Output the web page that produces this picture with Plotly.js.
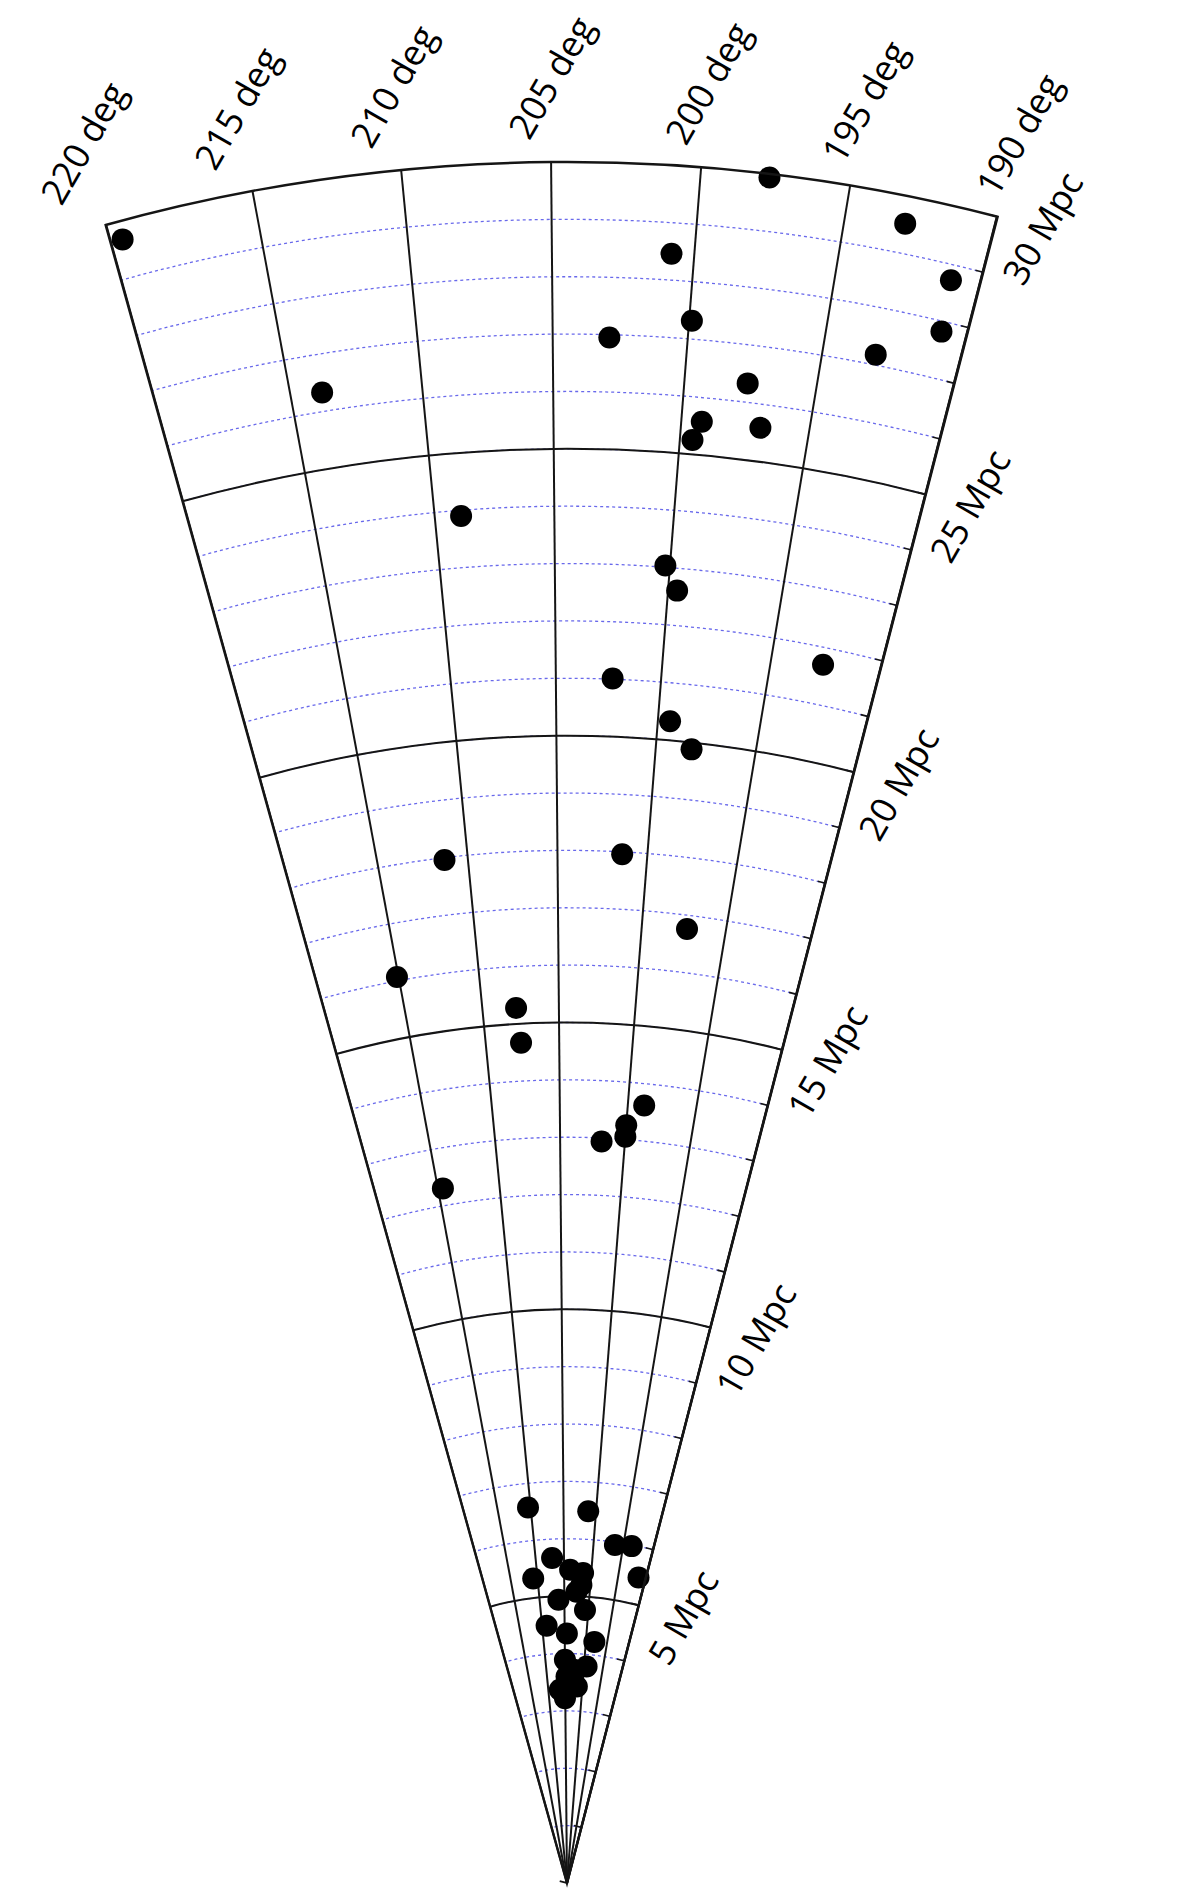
<!DOCTYPE html>
<html>
<head>
<meta charset="utf-8">
<script src="https://cdn.plot.ly/plotly-3.0.1.min.js"></script>
<style>html,body{margin:0;padding:0;background:#fff}</style>
</head>
<body>
<div id="wedge" style="width:1200px;height:1904px"></div>
<script>
var galaxyRA = [219.6, 197.7, 192.95, 200.8, 191.0, 199.9, 202.9, 190.9, 193.05, 213.8,
  197.6, 199.2, 196.9, 199.5, 208.9, 200.2, 199.6, 192.6, 202.3, 199.4,
  198.2, 211.3, 201.4, 197.3, 215.1, 207.8, 207.6, 198.8, 200.0, 200.0,
  201.8, 214.6,
  210.4, 201.2, 196.4, 193.6, 207.1, 210.8, 191.3, 203.9, 201.5, 201.7,
  202.6, 206.2, 200.7, 209.0, 204.5, 198.0, 205.0, 199.3, 202.6, 204.6,
  201.6, 206.6, 205.1];
var galaxyDist = [29.68, 29.94, 29.52, 28.46, 28.73, 27.32, 26.95, 27.82, 27.18, 26.33,
  26.33, 25.58, 25.59, 25.25, 23.90, 23.03, 22.61, 21.70, 21.01, 20.33,
  19.88, 17.96, 17.96, 16.76, 16.07, 15.28, 14.67, 13.62, 13.25, 13.05,
  12.94, 12.30,
  6.58, 6.49, 5.95, 5.98, 5.67, 5.34, 5.47, 5.46, 5.41, 5.20,
  5.08, 4.94, 4.77, 4.50, 4.35, 4.23, 3.89, 3.79, 3.72, 3.60,
  3.43, 3.37, 3.22];

var angleTicks = [190, 195, 200, 205, 210, 215, 220];
var distTicks = [5, 10, 15, 20, 25, 30];

var W = 1200, H = 1904;
// wedge geometry in pixels
var apexX = 567, apexY = 1883, rOuter = 1721;
var rot = -114.47;   // screen angle of theta = 0
var rMax = 30;
var sector = [190 + rot - 0.02, 220 + rot + 0.02];

function rad(a) { return a * Math.PI / 180; }

// bounding box of the sector so the polar domain lands on the apex
var xs = [0], ys = [0];
sector.forEach(function(a) { xs.push(Math.cos(rad(a))); ys.push(Math.sin(rad(a))); });
if (sector[0] < 90 && sector[1] > 90) ys.push(1);
var bx0 = Math.min.apply(null, xs), bx1 = Math.max.apply(null, xs), by1 = Math.max.apply(null, ys);
var dom = {
  x: [(apexX + bx0 * rOuter) / W, (apexX + bx1 * rOuter) / W],
  y: [(H - apexY) / H, (H - apexY + by1 * rOuter) / H]
};

var ink = '#151515';
var labelFont = {family: 'Open Sans, sans-serif', size: 36, color: '#000'};

// minor 1 Mpc rings, blue dotted
var minorPolar = {
  domain: dom, sector: sector, bgcolor: 'white',
  radialaxis: {range: [0, rMax], dtick: 1, showgrid: true, gridcolor: 'rgb(105,105,235)',
    griddash: 'dot', gridwidth: 1.3, showline: false, side: 'clockwise', angle: 190 + rot,
    ticks: 'inside', ticklen: 7, tickwidth: 1.6, tickcolor: ink, showticklabels: false},
  angularaxis: {rotation: rot, direction: 'counterclockwise', showgrid: false,
    showline: false, ticks: '', showticklabels: false}
};

// major grid: 5 Mpc rings and 5 deg spokes
var majorPolar = {
  domain: dom, sector: sector, bgcolor: 'rgba(0,0,0,0)',
  radialaxis: {range: [0, rMax], tickvals: distTicks, showgrid: true, gridcolor: ink,
    gridwidth: 2, showline: true, linecolor: ink, linewidth: 2.4, side: 'clockwise',
    angle: 190 + rot, ticks: '', showticklabels: false},
  angularaxis: {rotation: rot, direction: 'counterclockwise', tickvals: angleTicks,
    showgrid: true, gridcolor: ink, gridwidth: 2, showline: true, linecolor: ink,
    linewidth: 2.4, ticks: '', showticklabels: false}
};

// rotated tick labels
var annotations = [];
angleTicks.forEach(function(a) {
  var phi = rad(a + rot), rr = rOuter + 85;
  annotations.push({
    xref: 'paper', yref: 'paper', showarrow: false, textangle: -60,
    x: (apexX + rr * Math.cos(phi)) / W, y: 1 - (apexY - rr * Math.sin(phi)) / H,
    xanchor: 'center', yanchor: 'middle', text: a + ' deg', font: labelFont
  });
});
var phiEdge = rad(190 + rot), nrm = phiEdge - Math.PI / 2;
distTicks.forEach(function(d) {
  var rr = d / rMax * rOuter;
  var px = apexX + rr * Math.cos(phiEdge) + 46 * Math.cos(nrm);
  var py = apexY - rr * Math.sin(phiEdge) - 46 * Math.sin(nrm);
  annotations.push({
    xref: 'paper', yref: 'paper', showarrow: false, textangle: -60,
    x: px / W, y: 1 - py / H, xanchor: 'center', yanchor: 'middle',
    text: d + ' Mpc', font: labelFont
  });
});

var traces = [
  {type: 'scatterpolar', subplot: 'polar', r: galaxyDist, theta: galaxyRA,
   mode: 'none', hoverinfo: 'skip', showlegend: false},
  {type: 'scatterpolar', subplot: 'polar2', r: galaxyDist, theta: galaxyRA,
   mode: 'markers', marker: {color: 'black', size: 22}, showlegend: false}
];

var layout = {
  width: W, height: H,
  margin: {l: 0, r: 0, t: 0, b: 0},
  paper_bgcolor: 'white',
  showlegend: false,
  polar: minorPolar,
  polar2: majorPolar,
  annotations: annotations
};

Plotly.newPlot('wedge', traces, layout, {staticPlot: true});
</script>
</body>
</html>
